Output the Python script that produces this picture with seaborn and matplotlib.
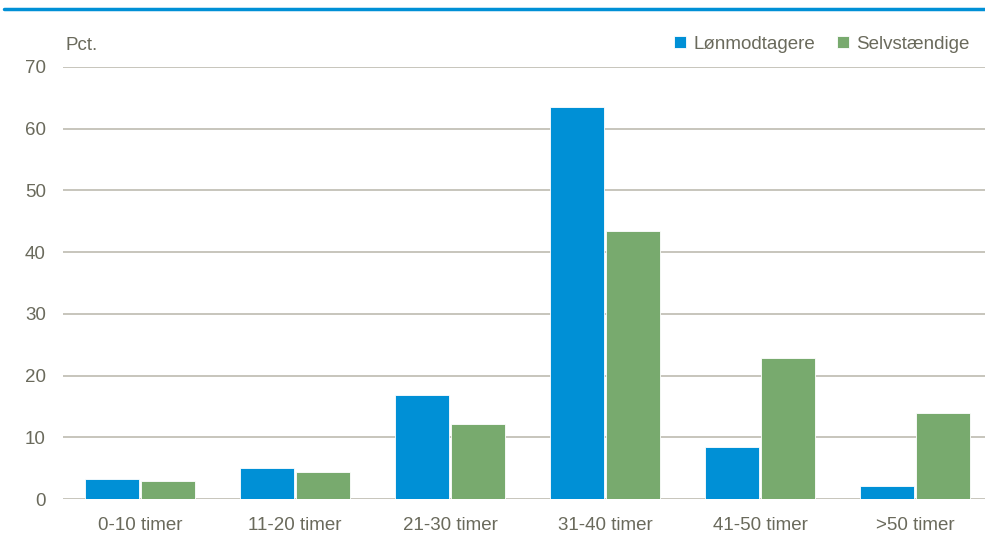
import pandas as pd
import seaborn as sns
import matplotlib.pyplot as plt
from matplotlib.lines import Line2D

categories = ["0-10 timer", "11-20 timer", "21-30 timer", "31-40 timer", "41-50 timer", ">50 timer"]
loenmodtagere = [3.3, 5.1, 16.8, 63.5, 8.5, 2.1]
selvstaendige = [2.9, 4.3, 12.1, 43.5, 22.9, 13.9]
series = ["Lønmodtagere", "Selvstændige"]

df = pd.DataFrame({
    "kategori": categories * 2,
    "gruppe": [series[0]] * len(categories) + [series[1]] * len(categories),
    "pct": loenmodtagere + selvstaendige,
})

sns.set_theme(style="white")
plt.rcParams["font.family"] = ["Liberation Sans", "DejaVu Sans"]
text_col = "#6a6a5c"
grid_col = "#bdbbb0"
colors = {"Lønmodtagere": "#0090d6", "Selvstændige": "#78aa6e"}

fig = plt.figure(figsize=(9.85, 5.39), dpi=100)
# plot area runs a little past the right edge, like the original
ax = fig.add_axes([0.0635, 0.0742, 0.9442, 0.8015])

sns.barplot(data=df, x="kategori", y="pct", hue="gruppe", hue_order=series,
            palette=colors, width=0.715, gap=0.025, saturation=1,
            edgecolor="white", linewidth=0.6, ax=ax, zorder=3)

ax.set_ylim(0, 70)
ax.set_yticks(range(0, 71, 10))
ax.set_xlim(-0.5, len(categories) - 0.5)
ax.grid(axis="y", color=grid_col, linewidth=1.2, zorder=0)
ax.set_axisbelow(True)
for s in ax.spines.values():
    s.set_visible(False)
ax.tick_params(axis="both", length=0, labelsize=13.5, colors=text_col)
ax.tick_params(axis="y", pad=12)
ax.tick_params(axis="x", pad=13)
ax.set_xlabel("")
ax.set_ylabel("")

handles, labels = ax.get_legend_handles_labels()
ax.get_legend().remove()
fig.legend(handles, labels, loc="center right", bbox_to_anchor=(0.992, 0.918), ncol=2,
           frameon=False, borderaxespad=0, handlelength=0.6, handleheight=0.6,
           handletextpad=0.4, columnspacing=1.2, fontsize=13.5, labelcolor=text_col)
fig.text(0.066, 0.916, "Pct.", fontsize=13.5, color=text_col, va="center")

# thin blue rule at the top
fig.add_artist(Line2D([0.004, 1.0], [0.983, 0.983], color="#0090d6", linewidth=2.5))

fig.savefig("out.png", dpi=100)
